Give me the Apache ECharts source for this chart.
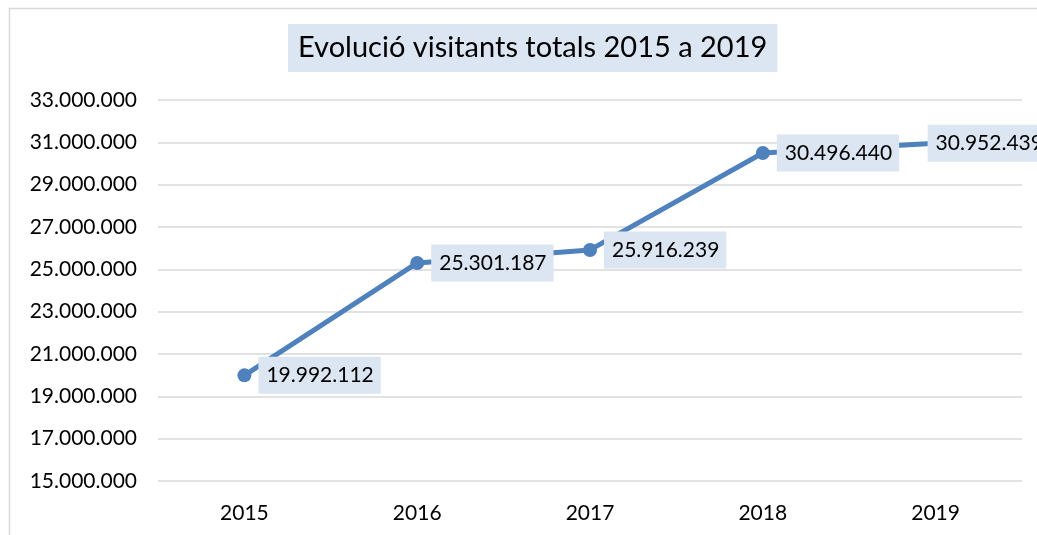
<!DOCTYPE html>
<html><head><meta charset="utf-8">
<script src="https://cdn.jsdelivr.net/npm/echarts@6/dist/echarts.min.js"></script>
<style>html,body{margin:0;padding:0;background:#fff}#c{width:1037px;height:535px}</style>
</head><body><div id="c"></div>
<script>
var titleText = 'Evolució visitants totals 2015 a 2019';
var categories = ['2015', '2016', '2017', '2018', '2019'];
var visitants = [19992112, 25301187, 25916239, 30496440, 30952439];
var yMin = 15000000, yMax = 33000000, yStep = 2000000;

function fmt(v) { return String(Math.round(v)).replace(/\B(?=(\d{3})+(?!\d))/g, '.'); }

var FONT = 'Lato';
var chart = echarts.init(document.getElementById('c'));
var seriesData = visitants.map(function (v, i) {
  var d = { value: v };
  if (i === visitants.length - 1) d.label = { offset: [-22, 0] };
  return d;
});
chart.setOption({
  animation: false,
  graphic: [{
    type: 'rect', shape: { x: 9.5, y: 8.5, width: 1200, height: 700 },
    style: { fill: 'none', stroke: '#d9d9d9', lineWidth: 1.5 }, z: -10
  }],
  title: {
    text: titleText, left: 288, top: 24,
    padding: [8, 10, 8, 10],
    backgroundColor: '#dce6f2',
    textStyle: { fontFamily: FONT, fontSize: 29, fontWeight: 'normal', color: '#000', lineHeight: 32 }
  },
  grid: { left: 158, right: 15, top: 100, bottom: 54 },
  xAxis: {
    type: 'category', data: categories, boundaryGap: true,
    axisLine: { show: false }, axisTick: { show: false },
    axisLabel: { fontFamily: FONT, fontSize: 21, color: '#000', margin: 22 }
  },
  yAxis: {
    type: 'value', min: yMin, max: yMax, interval: yStep,
    axisLine: { show: false }, axisTick: { show: false },
    splitLine: { lineStyle: { color: '#d9d9d9', width: 1.5 } },
    axisLabel: { fontFamily: FONT, fontSize: 21, color: '#000', margin: 21, formatter: fmt }
  },
  series: [{
    type: 'line', data: seriesData,
    symbol: 'circle', symbolSize: 14,
    itemStyle: { color: '#4f81bd' },
    lineStyle: { color: '#4f81bd', width: 5 },
    label: {
      show: true, position: 'right', distance: 7,
      formatter: function (p) { return fmt(p.value); },
      fontFamily: FONT, fontSize: 21, color: '#000',
      backgroundColor: '#dce6f2', padding: [8, 7, 8, 8]
    }
  }]
});
</script></body></html>
